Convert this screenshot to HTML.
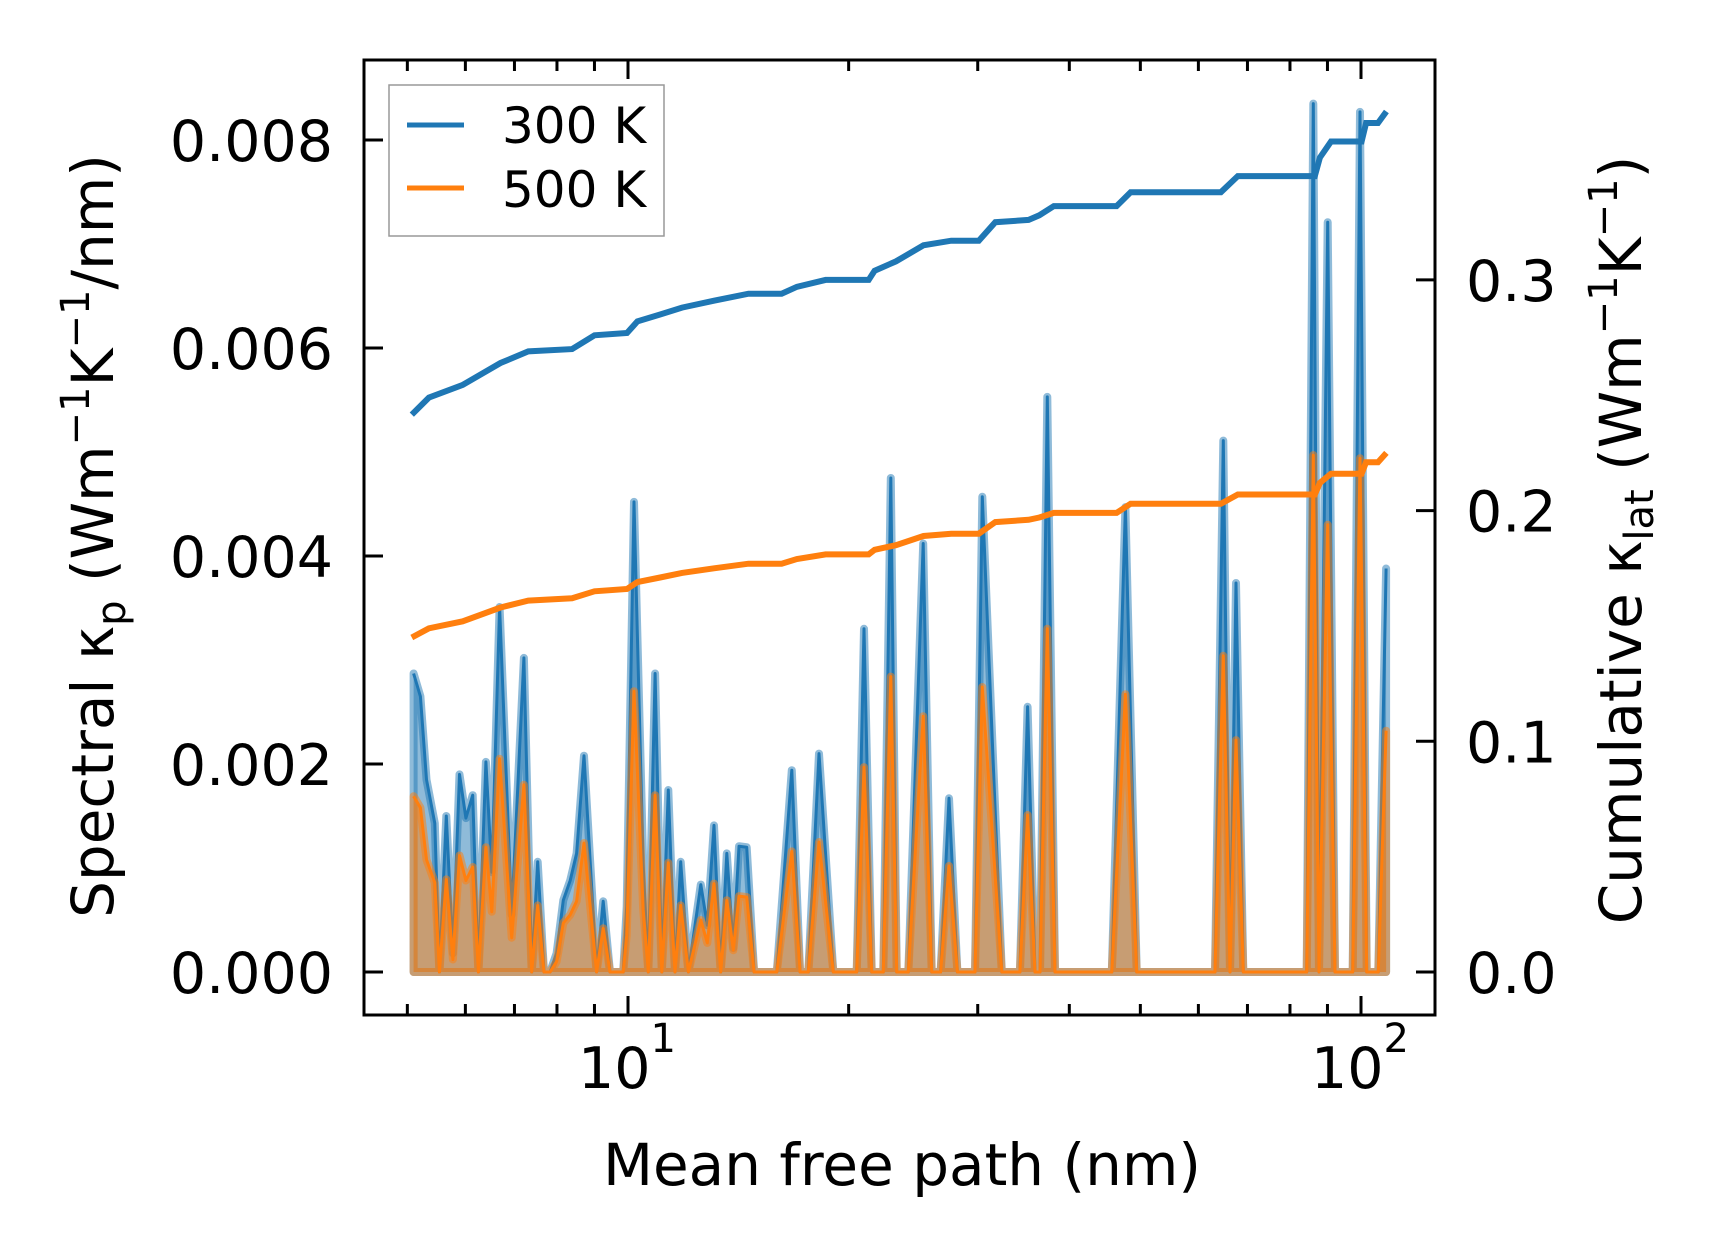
<!DOCTYPE html>
<html><head><meta charset="utf-8"><style>
html,body{margin:0;padding:0;background:#fff;}
svg{display:block;font-family:"DejaVu Sans","Liberation Sans",sans-serif;}
</style></head><body>
<svg id="chart" width="1716" height="1254" viewBox="0 0 1716 1254" xmlns="http://www.w3.org/2000/svg">
<g id="plot"></g>
<g id="axes"></g>
</svg>
<script>
// Mean free path (nm)
const mfp = [5.10,5.21,5.31,5.45,5.53,5.65,5.77,5.89,6.01,6.14,6.25,6.40,6.52,6.68,6.94,7.21,7.39,7.53,7.68,7.83,7.99,8.16,8.34,8.51,8.71,9.06,9.25,9.45,9.85,9.96,10.19,10.49,10.66,10.89,11.12,11.35,11.59,11.80,12.09,12.57,12.83,13.10,13.38,13.64,13.92,14.17,14.52,14.86,15.96,16.73,17.17,17.62,18.22,19.06,20.51,20.99,21.50,22.30,22.83,23.26,24.12,25.28,25.96,26.70,27.41,28.14,29.74,30.43,32.36,34.25,35.09,35.91,36.48,37.33,38.24,45.71,47.70,49.43,63.22,64.88,66.27,67.53,69.09,84.31,86.08,87.64,90.06,92.16,97.43,99.68,101.8,105.6,108.2];
// Spectral kappa, units of 1e-3 W/mK/nm
const spec300 = [2.87,2.65,1.85,1.43,0,1.50,0.18,1.90,1.48,1.70,0,2.02,0.96,3.51,0.55,3.02,0,1.06,0,0,0.18,0.69,0.88,1.14,2.08,0,0.68,0,0,0.63,4.52,1.03,0,2.87,0,1.75,0,1.06,0,0.84,0.45,1.41,0,1.14,0.23,1.21,1.20,0,0,1.94,0,0,2.10,0,0,3.30,0,0,4.75,0,0,4.12,0,0,1.67,0,0,4.57,0,0,2.55,0,0,5.53,0,0,4.47,0,0,5.11,0,3.74,0,0,8.35,0,7.21,0,0,8.27,0,0,3.88];
const spec500 = [1.69,1.58,1.08,0.86,0,0.89,0.12,1.12,0.88,1.01,0,1.20,0.58,2.05,0.33,1.80,0,0.64,0,0,0.10,0.47,0.55,0.68,1.24,0,0.42,0,0,0.35,2.70,0.60,0,1.70,0,1.05,0,0.64,0,0.50,0.28,0.85,0,0.69,0.21,0.73,0.72,0,0,1.16,0,0,1.25,0,0,1.97,0,0,2.84,0,0,2.46,0,0,1.02,0,0,2.74,0,0,1.51,0,0,3.30,0,0,2.67,0,0,3.04,0,2.23,0,0,4.97,0,4.30,0,0,4.94,0,0,2.32];
// Cumulative kappa (W/mK)
const cumX = [5.07,5.35,5.95,6.70,7.31,8.39,9.0,9.97,10.3,11.06,11.85,13.1,14.6,16.2,17.0,18.6,21.3,21.7,23.2,25.3,27.6,30.1,31.7,35.2,36.4,38.1,46.4,48.5,64.4,67.9,86.5,87.9,91.0,100.2,101.6,105.5,108.3];
const cum300 = [0.2416,0.249,0.2545,0.264,0.269,0.270,0.276,0.277,0.282,0.285,0.288,0.291,0.294,0.294,0.297,0.300,0.300,0.304,0.308,0.315,0.317,0.317,0.325,0.326,0.328,0.332,0.332,0.338,0.338,0.345,0.345,0.353,0.360,0.360,0.368,0.368,0.373];
const cum500 = [0.145,0.149,0.152,0.158,0.161,0.162,0.165,0.166,0.169,0.171,0.173,0.175,0.177,0.177,0.179,0.181,0.181,0.183,0.185,0.189,0.190,0.190,0.195,0.196,0.197,0.199,0.199,0.203,0.203,0.207,0.207,0.212,0.216,0.216,0.221,0.221,0.225];
const leftTicks = [0,2,4,6,8];
const leftTickLabels = ["0.000","0.002","0.004","0.006","0.008"];
const rightTicks = [0,0.1,0.2,0.3];
const rightTickLabels = ["0.0","0.1","0.2","0.3"];
const xMajor = [10,100];
const xMajorExp = ["1","2"];
const xMinor = [5,6,7,8,9,20,30,40,50,60,70,80,90];

const NS="http://www.w3.org/2000/svg";
const L=364,R=1435,T=60,B=1015;
const xs = v => 628 + (Math.log10(v)-1)*733;
const yl = v => 972 - v*104;      // v in 1e-3
const yr = v => 972 - v*2307;
const plot=document.getElementById('plot'), axes=document.getElementById('axes');
function mk(tag,attrs,parent){const e=document.createElementNS(NS,tag);for(const k in attrs)e.setAttribute(k,attrs[k]);parent.appendChild(e);return e;}

function spectral(vals,color,rgba,name){
  let line=mfp.map((x,i)=>(i?'L':'M')+xs(x).toFixed(1)+','+yl(vals[i]).toFixed(1)).join(' ');
  let area=line+' L'+xs(mfp[mfp.length-1]).toFixed(1)+','+yl(0)+' L'+xs(mfp[0]).toFixed(1)+','+yl(0)+' Z';
  const a=mk('path',{d:area,fill:rgba,stroke:rgba,'stroke-width':8,'stroke-linejoin':'round'},plot);
  
  
  const l=mk('path',{d:line,fill:'none',stroke:color,'stroke-width':3,'stroke-linejoin':'round'},plot);
  
  
}
spectral(spec300,'#1f77b4','rgba(31,119,180,0.5)','spectral-300k');
spectral(spec500,'#ff7f0e','rgba(255,127,14,0.5)','spectral-500k');

function cum(vals,color,name){
  let d=cumX.map((x,i)=>(i?'L':'M')+xs(x).toFixed(1)+','+yr(vals[i]).toFixed(1)).join(' ');
  const c=mk('path',{d:d,fill:'none',stroke:color,'stroke-width':6}, plot);
  
  
}
cum(cum300,'#1f77b4','cumulative-300k');
cum(cum500,'#ff7f0e','cumulative-500k');

const fr=mk('rect',{x:L,y:T,width:R-L,height:B-T,fill:'none',stroke:'#000','stroke-width':3},axes);



const tk={stroke:'#000','stroke-width':3};
leftTicks.forEach((v,i)=>{
  const y=yl(v);
  mk('line',Object.assign({x1:L,x2:L+19,y1:y,y2:y},tk),axes);
  const t=mk('text',{x:333,y:y+21,'font-size':57,'text-anchor':'end'},axes);
  t.textContent=leftTickLabels[i];
  
  
});
rightTicks.forEach((v,i)=>{
  const y=yr(v);
  mk('line',Object.assign({x1:R-19,x2:R,y1:y,y2:y},tk),axes);
  const t=mk('text',{x:1466,y:y+21,'font-size':57},axes);
  t.textContent=rightTickLabels[i];
  
  
});
xMajor.forEach((v,i)=>{
  const x=xs(v);
  mk('line',Object.assign({x1:x,x2:x,y1:B,y2:B-19},tk),axes);
  mk('line',Object.assign({x1:x,x2:x,y1:T,y2:T+19},tk),axes);
  const t=mk('text',{x:x-1,y:1088,'font-size':57,'text-anchor':'middle'},axes);
  t.textContent='10';
  const s=mk('tspan',{dy:-36,'font-size':40},t);
  s.textContent=xMajorExp[i];
  
  
});
xMinor.forEach(v=>{
  const x=xs(v);
  mk('line',Object.assign({x1:x,x2:x,y1:B,y2:B-11},tk),axes);
  mk('line',Object.assign({x1:x,x2:x,y1:T,y2:T+11},tk),axes);
});

let t=mk('text',{x:902,y:1185,'font-size':58,'text-anchor':'middle'},axes);
t.textContent='Mean free path (nm)';



t=mk('text',{x:0,y:0,'font-size':58,'text-anchor':'middle',transform:'translate(113,536) rotate(-90)'},axes);
t.innerHTML='Spectral κ<tspan font-size="40" dy="12">p</tspan><tspan dy="-12"> (Wm</tspan><tspan font-size="40" dy="-24">−1</tspan><tspan dy="24">K</tspan><tspan font-size="40" dy="-24">−1</tspan><tspan dy="24">/nm)</tspan>';



t=mk('text',{x:0,y:0,'font-size':58,'text-anchor':'middle',transform:'translate(1641,540) rotate(-90)'},axes);
t.innerHTML='Cumulative κ<tspan font-size="40" dy="12">lat</tspan><tspan dy="-12"> (Wm</tspan><tspan font-size="40" dy="-24">−1</tspan><tspan dy="24">K</tspan><tspan font-size="40" dy="-24">−1</tspan><tspan dy="24">)</tspan>';



const lg=mk('g',{},axes);


mk('rect',{x:389,y:85,width:275,height:151,fill:'#fff','fill-opacity':0.8,stroke:'#999','stroke-width':1.5},lg);
[['300 K','#1f77b4',125,143],['500 K','#ff7f0e',188,207]].forEach(e=>{
  const g=mk('g',{},lg);
  
  
  mk('line',{x1:407,x2:464,y1:e[2],y2:e[2],stroke:e[1],'stroke-width':5},g);
  const tx=mk('text',{x:502,y:e[3],'font-size':50},g);
  tx.textContent=e[0];
});
</script>
</body></html>
